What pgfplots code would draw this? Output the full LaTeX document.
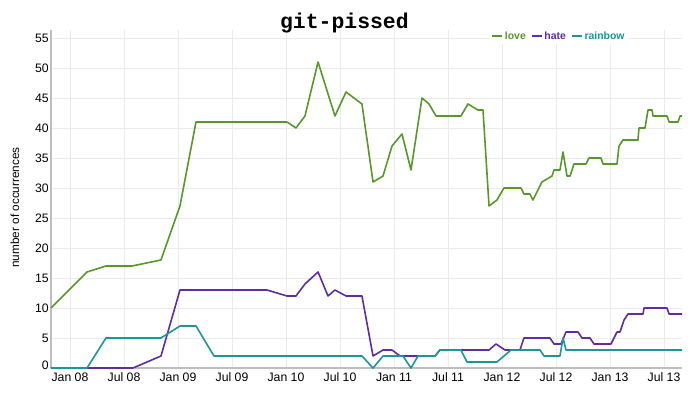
\documentclass[border=0pt]{standalone}
\usepackage{fontspec}
\setmainfont{Liberation Sans}
\newfontfamily\titlefont{Liberation Mono}
\usepackage{pgfplots}
\pgfplotsset{compat=1.18}
\definecolor{lovec}{RGB}{88,152,40}
\definecolor{hatec}{RGB}{94,44,164}
\definecolor{rainc}{RGB}{28,150,150}
\definecolor{gridc}{RGB}{235,235,235}
\definecolor{axc}{RGB}{190,190,190}
\begin{document}
\begin{tikzpicture}
\useasboundingbox (-51bp,-28bp) rectangle (649bp,368bp);
\begin{axis}[
  scale only axis, width=631bp, height=338bp,
  xmin=-2.11, xmax=68, ymin=0, ymax=56.33,
  axis x line=bottom, axis y line=left,
  axis line style={-, draw=axc, line width=1.6bp},
  major tick length=0pt,
  grid=major, grid style={draw=gridc, line width=0.8bp},
  xtick={0,6,12,18,24,30,36,42,48,54,60,66},
  xticklabels={Jan 08,Jul 08,Jan 09,Jul 09,Jan 10,Jul 10,Jan 11,Jul 11,Jan 12,Jul 12,Jan 13,Jul 13},
  ytick={0,5,10,15,20,25,30,35,40,45,50,55},
  yticklabels={\raisebox{5bp}{0},5,10,15,20,25,30,35,40,45,50,55},
  tick label style={font=\fontsize{12.3}{14}\selectfont, text=black},
  xticklabel style={inner sep=0pt, yshift=-4.5bp},
  yticklabel style={inner sep=2bp},
  /pgf/number format/assume math mode=true,
  ylabel={number of occurrences},
  ylabel style={at={(axis description cs:-0.057,0.475)}, anchor=center, font=\fontsize{11.8}{14}\selectfont},
  title={git-pissed},
  every axis title/.style={at={(axis description cs:0.465,1.0044)}, anchor=base, inner sep=0pt, font=\titlefont\bfseries\fontsize{21.5}{24}\selectfont},
  legend style={at={(axis description cs:0.805,0.982)}, anchor=center, draw=none, fill=white,
    font=\bfseries\fontsize{10.5}{12}\selectfont, inner sep=1bp,
    /tikz/every even column/.append style={column sep=3bp}},
  legend columns=-1,
  legend image code/.code={\draw[#1, line width=1.6bp] (0bp,0bp) -- (10bp,0bp);},
  every axis plot/.append style={line width=1.6bp, line join=round},
  clip=false,
]
\addplot[lovec, mark=none] coordinates {
(-2.11,10) (1.89,16) (4.0,17) (6.89,17) (10.11,18) (12.22,27) (14.0,41)
(24.11,41) (25.11,40) (26.11,42) (27.56,51) (29.44,42) (30.67,46) (32.44,44)
(33.67,31) (34.78,32) (35.78,37) (36.89,39) (37.89,33) (39.11,45) (39.89,44)
(40.67,42) (43.44,42) (44.22,44) (45.33,43) (45.89,43) (46.56,27) (47.44,28)
(48.22,30) (50.11,30) (50.44,29) (51.1,29) (51.44,28) (52.44,31) (53.56,32)
(53.78,33) (54.44,33) (54.78,36) (55.22,32) (55.56,32) (56.0,34) (57.33,34)
(57.67,35) (59.0,35) (59.22,34) (60.78,34) (61.0,37) (61.44,38) (63.11,38)
(63.22,40) (63.89,40) (64.22,43) (64.67,43) (64.78,42) (66.33,42) (66.56,41)
(67.56,41) (67.78,42) (68.0,42)
};
\addlegendentry{\textcolor{lovec}{love}}
\addplot[hatec, mark=none] coordinates {
(-2.11,0) (7.0,0) (10.11,2) (12.22,13) (21.89,13) (24.11,12) (25.11,12)
(26.11,14) (27.56,16) (28.67,12) (29.44,13) (30.67,12) (32.44,12) (33.67,2)
(34.78,3) (35.78,3) (36.67,2) (40.56,2) (41.11,3) (46.56,3) (47.33,4)
(48.33,3) (50.0,3) (50.44,5) (53.33,5) (53.78,4) (54.56,4) (55.11,6)
(56.44,6) (56.89,5) (57.78,5) (58.22,4) (60.11,4) (60.78,6) (61.11,6)
(61.56,8) (62.0,9) (63.67,9) (63.78,10) (66.33,10) (66.56,9) (68.0,9)
};
\addlegendentry{\textcolor{hatec}{hate}}
\addplot[rainc, mark=none] coordinates {
(-2.11,0) (1.89,0) (4.0,5) (10.11,5) (12.22,7) (14.0,7) (16.0,2)
(32.44,2) (33.67,0) (34.78,2) (37.0,2) (37.89,0) (38.67,2) (40.56,2)
(41.11,3) (43.44,3) (44.11,1) (47.44,1) (49.0,3) (52.22,3) (52.67,2)
(54.44,2) (54.78,5) (55.11,3) (68.0,3)
};
\addlegendentry{\textcolor{rainc}{rainbow}}
\end{axis}
\end{tikzpicture}
\end{document}
